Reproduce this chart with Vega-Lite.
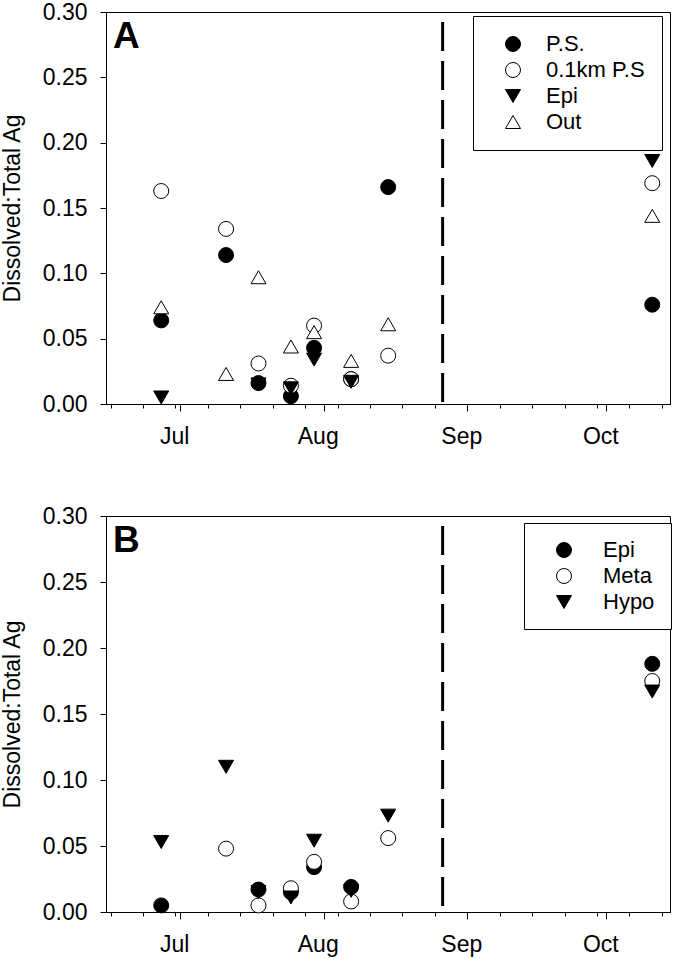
{
  "$schema": "https://vega.github.io/schema/vega-lite/v6.json",
  "padding": {"left": 0, "top": 0, "right": 2, "bottom": 0},
  "background": "white",
  "datasets": {
    "panelA": [
      {"date": "2008-06-26T22:00", "site": "P.S.", "ratio": 0.064},
      {"date": "2008-07-10T22:00", "site": "P.S.", "ratio": 0.114},
      {"date": "2008-07-17T22:00", "site": "P.S.", "ratio": 0.016},
      {"date": "2008-07-24T22:00", "site": "P.S.", "ratio": 0.006},
      {"date": "2008-07-29T22:00", "site": "P.S.", "ratio": 0.043},
      {"date": "2008-08-06T22:00", "site": "P.S.", "ratio": 0.019},
      {"date": "2008-08-14T22:00", "site": "P.S.", "ratio": 0.166},
      {"date": "2008-10-10T22:00", "site": "P.S.", "ratio": 0.076},
      {"date": "2008-06-26T22:00", "site": "0.1km P.S", "ratio": 0.163},
      {"date": "2008-07-10T22:00", "site": "0.1km P.S", "ratio": 0.134},
      {"date": "2008-07-17T22:00", "site": "0.1km P.S", "ratio": 0.031},
      {"date": "2008-07-24T22:00", "site": "0.1km P.S", "ratio": 0.014},
      {"date": "2008-07-29T22:00", "site": "0.1km P.S", "ratio": 0.060},
      {"date": "2008-08-06T22:00", "site": "0.1km P.S", "ratio": 0.019},
      {"date": "2008-08-14T22:00", "site": "0.1km P.S", "ratio": 0.037},
      {"date": "2008-10-10T22:00", "site": "0.1km P.S", "ratio": 0.169},
      {"date": "2008-06-26T22:00", "site": "Epi", "ratio": 0.005},
      {"date": "2008-07-17T22:00", "site": "Epi", "ratio": 0.015},
      {"date": "2008-07-24T22:00", "site": "Epi", "ratio": 0.012},
      {"date": "2008-07-29T22:00", "site": "Epi", "ratio": 0.034},
      {"date": "2008-08-06T22:00", "site": "Epi", "ratio": 0.017},
      {"date": "2008-10-10T22:00", "site": "Epi", "ratio": 0.186},
      {"date": "2008-06-26T22:00", "site": "Out", "ratio": 0.074},
      {"date": "2008-07-10T22:00", "site": "Out", "ratio": 0.023},
      {"date": "2008-07-17T22:00", "site": "Out", "ratio": 0.097},
      {"date": "2008-07-24T22:00", "site": "Out", "ratio": 0.044},
      {"date": "2008-07-29T22:00", "site": "Out", "ratio": 0.055},
      {"date": "2008-08-06T22:00", "site": "Out", "ratio": 0.033},
      {"date": "2008-08-14T22:00", "site": "Out", "ratio": 0.061},
      {"date": "2008-10-10T22:00", "site": "Out", "ratio": 0.144}
    ],
    "panelB": [
      {"date": "2008-06-26T22:00", "depth": "Epi", "ratio": 0.005},
      {"date": "2008-07-17T22:00", "depth": "Epi", "ratio": 0.017},
      {"date": "2008-07-24T22:00", "depth": "Epi", "ratio": 0.015},
      {"date": "2008-07-29T22:00", "depth": "Epi", "ratio": 0.034},
      {"date": "2008-08-06T22:00", "depth": "Epi", "ratio": 0.019},
      {"date": "2008-10-10T22:00", "depth": "Epi", "ratio": 0.188},
      {"date": "2008-07-10T22:00", "depth": "Meta", "ratio": 0.048},
      {"date": "2008-07-17T22:00", "depth": "Meta", "ratio": 0.005},
      {"date": "2008-07-24T22:00", "depth": "Meta", "ratio": 0.018},
      {"date": "2008-07-29T22:00", "depth": "Meta", "ratio": 0.038},
      {"date": "2008-08-06T22:00", "depth": "Meta", "ratio": 0.008},
      {"date": "2008-08-14T22:00", "depth": "Meta", "ratio": 0.056},
      {"date": "2008-10-10T22:00", "depth": "Meta", "ratio": 0.175},
      {"date": "2008-06-26T22:00", "depth": "Hypo", "ratio": 0.053},
      {"date": "2008-07-10T22:00", "depth": "Hypo", "ratio": 0.110},
      {"date": "2008-07-17T22:00", "depth": "Hypo", "ratio": 0.015},
      {"date": "2008-07-24T22:00", "depth": "Hypo", "ratio": 0.011},
      {"date": "2008-07-29T22:00", "depth": "Hypo", "ratio": 0.054},
      {"date": "2008-08-06T22:00", "depth": "Hypo", "ratio": 0.016},
      {"date": "2008-08-14T22:00", "depth": "Hypo", "ratio": 0.073},
      {"date": "2008-10-10T22:00", "depth": "Hypo", "ratio": 0.167}
    ],
    "marker": [{"event": "divider"}]
  },
  "config": {
    "font": "Liberation Sans",
    "view": {"stroke": "black", "strokeWidth": 1},
    "axis": {
      "grid": false,
      "domainColor": "black",
      "tickColor": "black",
      "labelColor": "black",
      "titleColor": "black",
      "labelFont": "Liberation Sans",
      "titleFont": "Liberation Sans",
      "labelFontSize": 23,
      "titleFontSize": 23,
      "titleFontWeight": "normal"
    },
    "legend": {
      "labelFont": "Liberation Sans",
      "labelFontSize": 22,
      "labelColor": "black"
    }
  },
  "spacing": 55,
  "resolve": {
    "scale": {"shape": "independent", "fill": "independent", "stroke": "independent"},
    "legend": {"shape": "independent", "fill": "independent", "stroke": "independent"}
  },
  "vconcat": [
    {
      "width": 564,
      "height": 392,
      "title": {"text": "A", "anchor": "start", "frame": "group", "fontSize": 37, "fontWeight": "bold", "color": "black", "baseline": "top", "offset": 0, "dx": 7, "dy": 55},
      "resolve": {"axis": {"x": "independent"}},
      "layer": [
        {
          "data": {"name": "marker"},
          "mark": {"type": "rule", "strokeWidth": 3, "strokeDash": [29, 10], "strokeDashOffset": 29, "color": "black"},
          "encoding": {
            "x": {
              "datum": {"year": 2008, "month": 8, "date": 26, "hours": 16}, "type": "temporal",
              "axis": {
                "orient": "bottom",
                "title": null,
                "values": [{"year": 2008, "month": 7, "date": 1}, {"year": 2008, "month": 8, "date": 1}, {"year": 2008, "month": 9, "date": 1}, {"year": 2008, "month": 10, "date": 1}],
                "format": "%b",
                "tickSize": 7,
                "labelPadding": 14,
                "labelOffset": -6,
                "labelOverlap": false,
                "labelBound": false,
                "labelFlush": false
              }
            }
          }
        },
        {
          "data": {"name": "panelA"},
          "mark": {"type": "point", "filled": false, "size": 225, "strokeWidth": 1, "opacity": 1},
          "encoding": {
            "x": {
              "field": "date", "type": "temporal",
              "scale": {"domain": [{"year": 2008, "month": 6, "date": 15, "hours": 0}, {"year": 2008, "month": 10, "date": 14, "hours": 18}]},
              "axis": {
                "orient": "bottom",
                "title": null,
                "values": [
                  {"year": 2008, "month": 6, "date": 16}, {"year": 2008, "month": 6, "date": 23}, {"year": 2008, "month": 6, "date": 30},
                  {"year": 2008, "month": 7, "date": 7}, {"year": 2008, "month": 7, "date": 14},
                  {"year": 2008, "month": 7, "date": 21}, {"year": 2008, "month": 7, "date": 28},
                  {"year": 2008, "month": 8, "date": 4}, {"year": 2008, "month": 8, "date": 11}, {"year": 2008, "month": 8, "date": 18},
                  {"year": 2008, "month": 8, "date": 25}, {"year": 2008, "month": 9, "date": 1}, {"year": 2008, "month": 9, "date": 8},
                  {"year": 2008, "month": 9, "date": 15}, {"year": 2008, "month": 9, "date": 22}, {"year": 2008, "month": 9, "date": 29},
                  {"year": 2008, "month": 10, "date": 6}, {"year": 2008, "month": 10, "date": 13}
                ],
                "labels": false,
                "tickSize": 4
              }
            },
            "y": {
              "field": "ratio", "type": "quantitative",
              "scale": {"domain": [0, 0.3], "nice": false, "zero": false},
              "axis": {
                "title": "Dissolved:Total Ag",
                "values": [0, 0.05, 0.1, 0.15, 0.2, 0.25, 0.3],
                "format": ".2f",
                "tickSize": 6,
                "labelPadding": 13,
                "titlePadding": 18
              }
            },
            "shape": {
              "field": "site", "type": "nominal",
              "scale": {"domain": ["P.S.", "0.1km P.S", "Epi", "Out"], "range": ["circle", "circle", "triangle-down", "triangle-up"]},
              "legend": {"orient": "none", "legendX": 367, "legendY": 4, "title": null, "strokeColor": "black", "fillColor": "white", "padding": 17, "symbolSize": 225, "symbolOffset": 12, "labelOffset": 22, "rowPadding": 4, "symbolStrokeWidth": 1, "labelFontSize": 22}
            },
            "fill": {
              "field": "site", "type": "nominal",
              "scale": {"domain": ["P.S.", "0.1km P.S", "Epi", "Out"], "range": ["black", "white", "black", "white"]},
              "legend": {"orient": "none", "legendX": 367, "legendY": 4, "title": null, "strokeColor": "black", "fillColor": "white", "padding": 17, "symbolSize": 225, "symbolOffset": 12, "labelOffset": 22, "rowPadding": 4, "symbolStrokeWidth": 1, "labelFontSize": 22}
            },
            "stroke": {
              "field": "site", "type": "nominal",
              "scale": {"domain": ["P.S.", "0.1km P.S", "Epi", "Out"], "range": ["black", "black", "black", "black"]},
              "legend": {"orient": "none", "legendX": 367, "legendY": 4, "title": null, "strokeColor": "black", "fillColor": "white", "padding": 17, "symbolSize": 225, "symbolOffset": 12, "labelOffset": 22, "rowPadding": 4, "symbolStrokeWidth": 1, "labelFontSize": 22}
            }
          }
        }
      ]
    },
    {
      "width": 564,
      "height": 396,
      "title": {"text": "B", "anchor": "start", "frame": "group", "fontSize": 37, "fontWeight": "bold", "color": "black", "baseline": "top", "offset": 0, "dx": 7, "dy": 55},
      "resolve": {"axis": {"x": "independent"}},
      "layer": [
        {
          "data": {"name": "marker"},
          "mark": {"type": "rule", "strokeWidth": 3, "strokeDash": [29, 10], "strokeDashOffset": 29, "color": "black"},
          "encoding": {
            "x": {
              "datum": {"year": 2008, "month": 8, "date": 26, "hours": 16}, "type": "temporal",
              "axis": {
                "orient": "bottom",
                "title": null,
                "values": [{"year": 2008, "month": 7, "date": 1}, {"year": 2008, "month": 8, "date": 1}, {"year": 2008, "month": 9, "date": 1}, {"year": 2008, "month": 10, "date": 1}],
                "format": "%b",
                "tickSize": 7,
                "labelPadding": 14,
                "labelOffset": -6,
                "labelOverlap": false,
                "labelBound": false,
                "labelFlush": false
              }
            }
          }
        },
        {
          "data": {"name": "panelB"},
          "mark": {"type": "point", "filled": false, "size": 225, "strokeWidth": 1, "opacity": 1},
          "encoding": {
            "x": {
              "field": "date", "type": "temporal",
              "scale": {"domain": [{"year": 2008, "month": 6, "date": 15, "hours": 0}, {"year": 2008, "month": 10, "date": 14, "hours": 18}]},
              "axis": {
                "orient": "bottom",
                "title": null,
                "values": [
                  {"year": 2008, "month": 6, "date": 16}, {"year": 2008, "month": 6, "date": 23}, {"year": 2008, "month": 6, "date": 30},
                  {"year": 2008, "month": 7, "date": 7}, {"year": 2008, "month": 7, "date": 14},
                  {"year": 2008, "month": 7, "date": 21}, {"year": 2008, "month": 7, "date": 28},
                  {"year": 2008, "month": 8, "date": 4}, {"year": 2008, "month": 8, "date": 11}, {"year": 2008, "month": 8, "date": 18},
                  {"year": 2008, "month": 8, "date": 25}, {"year": 2008, "month": 9, "date": 1}, {"year": 2008, "month": 9, "date": 8},
                  {"year": 2008, "month": 9, "date": 15}, {"year": 2008, "month": 9, "date": 22}, {"year": 2008, "month": 9, "date": 29},
                  {"year": 2008, "month": 10, "date": 6}, {"year": 2008, "month": 10, "date": 13}
                ],
                "labels": false,
                "tickSize": 4
              }
            },
            "y": {
              "field": "ratio", "type": "quantitative",
              "scale": {"domain": [0, 0.3], "nice": false, "zero": false},
              "axis": {
                "title": "Dissolved:Total Ag",
                "values": [0, 0.05, 0.1, 0.15, 0.2, 0.25, 0.3],
                "format": ".2f",
                "tickSize": 6,
                "labelPadding": 13,
                "titlePadding": 18
              }
            },
            "shape": {
              "field": "depth", "type": "nominal",
              "scale": {"domain": ["Epi", "Meta", "Hypo"], "range": ["circle", "circle", "triangle-down"]},
              "legend": {"orient": "none", "legendX": 418, "legendY": 7, "title": null, "strokeColor": "black", "fillColor": "white", "padding": 16, "symbolSize": 225, "symbolOffset": 13, "labelOffset": 28, "rowPadding": 4, "symbolStrokeWidth": 1, "labelFontSize": 22}
            },
            "fill": {
              "field": "depth", "type": "nominal",
              "scale": {"domain": ["Epi", "Meta", "Hypo"], "range": ["black", "white", "black"]},
              "legend": {"orient": "none", "legendX": 418, "legendY": 7, "title": null, "strokeColor": "black", "fillColor": "white", "padding": 16, "symbolSize": 225, "symbolOffset": 13, "labelOffset": 28, "rowPadding": 4, "symbolStrokeWidth": 1, "labelFontSize": 22}
            },
            "stroke": {
              "field": "depth", "type": "nominal",
              "scale": {"domain": ["Epi", "Meta", "Hypo"], "range": ["black", "black", "black"]},
              "legend": {"orient": "none", "legendX": 418, "legendY": 7, "title": null, "strokeColor": "black", "fillColor": "white", "padding": 16, "symbolSize": 225, "symbolOffset": 13, "labelOffset": 28, "rowPadding": 4, "symbolStrokeWidth": 1, "labelFontSize": 22}
            }
          }
        }
      ]
    }
  ]
}
